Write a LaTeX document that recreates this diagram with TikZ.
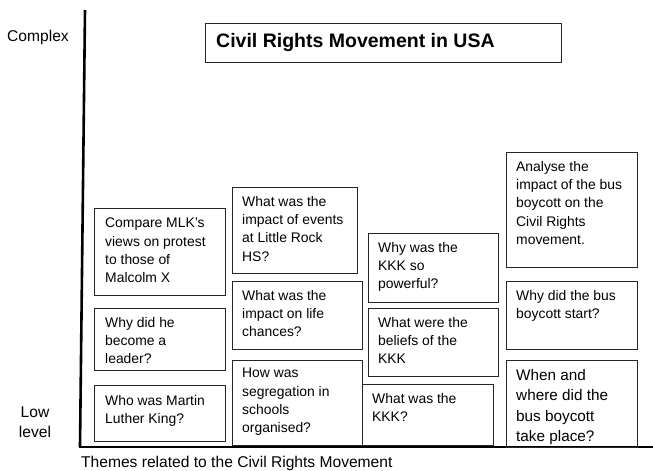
\documentclass[tikz,border=0pt]{standalone}
\usepackage{fontspec}
\setmainfont{Liberation Sans}
\begin{document}
\begin{tikzpicture}[x=1pt,y=-1pt,
  qbox/.style={draw=black!85,line width=0.9pt,rectangle,inner sep=0pt,anchor=north west},
  qtxt/.style={inner sep=0pt,anchor=north west,align=left,font=\fontsize{13.9}{18.3}\selectfont},
  qbig/.style={inner sep=0pt,anchor=north west,align=left,font=\fontsize{15.3}{20.5}\selectfont},
  lbl/.style={inner sep=0pt,font=\fontsize{15.6}{20}\selectfont,align=center},
  axis/.style={line width=2.6pt,black}]
\useasboundingbox (0,0) rectangle (653,471);
% axes
\coordinate (ytop) at (85,10);
\coordinate (origin) at (80,447);
\coordinate (xend) at (653,447);
\draw[axis] (ytop) -- (origin);
\draw[axis] ([xshift=-1.3pt]origin) -- (xend);
% labels
\node[lbl] (complex) at (38,37) {Complex};
\node[lbl] (low) at (35,422) {Low\\level};
\node[lbl,anchor=west] (themes) at (81,463) {Themes related to the Civil Rights Movement};
% title
\node[qbox,minimum width=356pt,minimum height=39pt] (title) at (205,23) {};
\node[inner sep=0pt,anchor=west,font=\fontsize{19.5}{23}\selectfont\bfseries] (titletxt) at (216,42.5) {Civil Rights Movement in USA};
% column 1
\node[qbox,minimum width=131pt,minimum height=87pt] (b1) at (94,208) {};
\node[qtxt] (t1) at ([shift={(11,10)}]b1.north west) {Compare MLK's\\views on protest\\to those of\\Malcolm X};
\node[qbox,minimum width=131pt,minimum height=62pt] (b2) at (94,308) {};
\node[qtxt] (t2) at ([shift={(11,9)}]b2.north west) {Why did he\\become a\\leader?};
\node[qbox,minimum width=131pt,minimum height=56pt] (b3) at (94,385) {};
\node[qtxt] (t3) at ([shift={(11,10)}]b3.north west) {Who was Martin\\Luther King?};
% column 2
\node[qbox,minimum width=125pt,minimum height=86pt] (b4) at (232,187) {};
\node[qtxt] (t4) at ([shift={(10,9)}]b4.north west) {What was the\\impact of events\\at Little Rock\\HS?};
\node[qbox,minimum width=130pt,minimum height=68pt] (b5) at (232,281) {};
\node[qtxt] (t5) at ([shift={(10,9)}]b5.north west) {What was the\\impact on life\\chances?};
\node[qbox,minimum width=130pt,minimum height=85pt] (b6) at (232,360) {};
\node[qtxt] (t6) at ([shift={(10,8)}]b6.north west) {How was\\segregation in\\schools\\organised?};
% column 3
\node[qbox,minimum width=130pt,minimum height=69pt] (b7) at (368,233) {};
\node[qtxt] (t7) at ([shift={(10,9)}]b7.north west) {Why was the\\KKK so\\powerful?};
\node[qbox,minimum width=130pt,minimum height=68pt] (b8) at (368,308) {};
\node[qtxt] (t8) at ([shift={(10,9)}]b8.north west) {What were the\\beliefs of the\\KKK};
\node[qbox,minimum width=131pt,minimum height=61pt] (b9) at (362,384) {};
\node[qtxt] (t9) at ([shift={(10,9)}]b9.north west) {What was the\\KKK?};
% column 4
\node[qbox,minimum width=131pt,minimum height=115pt] (b10) at (506,152) {};
\node[qtxt] (t10) at ([shift={(10,9)}]b10.north west) {Analyse the\\impact of the bus\\boycott on the\\Civil Rights\\movement.};
\node[qbox,minimum width=131pt,minimum height=68pt] (b11) at (506,281) {};
\node[qtxt] (t11) at ([shift={(10,9)}]b11.north west) {Why did the bus\\boycott start?};
\node[qbox,minimum width=131pt,minimum height=87pt] (b12) at (506,360) {};
\node[qbig] (t12) at ([shift={(10,9)}]b12.north west) {When and\\where did the\\bus boycott\\take place?};
\end{tikzpicture}
\end{document}
